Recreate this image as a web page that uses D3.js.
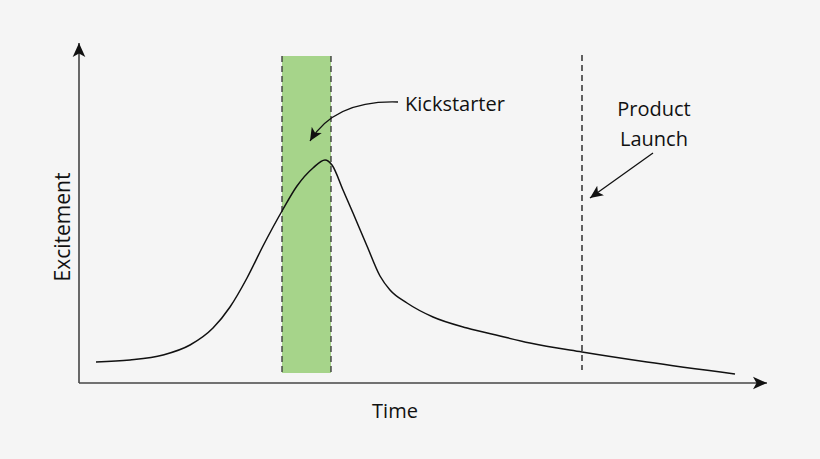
<!DOCTYPE html>
<html><head><meta charset="utf-8">
<script src="https://cdn.jsdelivr.net/npm/d3@7"></script>
<style>
html,body{margin:0;padding:0;background:#f5f5f5;}
svg{display:block;}
text{font-family:"Open Sans","Noto Sans",sans-serif;fill:#111;}
</style></head>
<body>
<svg id="c" width="820" height="459"></svg>
<script>
// Curve data: time (arbitrary units) vs excitement (arbitrary units)
const time = [17, 51, 84, 111, 134, 151, 168, 184, 203, 218, 234, 246, 253, 264, 274, 288, 301, 311, 328, 354, 388, 421, 451, 503, 568, 656];
const excitement = [21, 23, 28, 38, 55, 76, 105, 137, 172, 197, 215, 223, 218, 193, 170, 137, 107, 93, 80, 66, 55, 47, 40, 31, 21, 9];
// Kickstarter campaign window
const kickstarterWindow = [203, 252];
const bandRange = [10, 327];
// Product launch time
const launchTime = 503;
const launchRange = [13, 328];
const labels = {x: "Time", y: "Excitement", kick: "Kickstarter", launch: ["Product", "Launch"]};

const svg = d3.select("#c");
const x = d3.scaleLinear().domain([0, 688]).range([79, 767]);
const y = d3.scaleLinear().domain([0, 340]).range([383, 43]);

const defs = svg.append("defs");
defs.append("marker").attr("id","axArrow").attr("viewBox","0 0 10 10")
  .attr("refX",10).attr("refY",5).attr("markerWidth",16).attr("markerHeight",14)
  .attr("markerUnits","userSpaceOnUse").attr("orient","auto")
  .append("path").attr("d","M0,0.5 L10,5 L0,9.5 L2.5,5 Z").attr("fill","#111");
defs.append("marker").attr("id","annArrow").attr("viewBox","0 0 10 10")
  .attr("refX",10).attr("refY",5).attr("markerWidth",13).attr("markerHeight",13)
  .attr("markerUnits","userSpaceOnUse").attr("orient","auto")
  .append("path").attr("d","M0,0.5 L10,5 L0,9.5 L2.5,5 Z").attr("fill","#111");

// Kickstarter band
svg.append("rect")
  .attr("x", x(kickstarterWindow[0])).attr("width", x(kickstarterWindow[1]) - x(kickstarterWindow[0]))
  .attr("y", y(bandRange[1])).attr("height", y(bandRange[0]) - y(bandRange[1]))
  .attr("fill", "#a6d48a");
kickstarterWindow.forEach(t => {
  svg.append("line").attr("x1", x(t)).attr("x2", x(t))
    .attr("y1", y(bandRange[1])).attr("y2", y(bandRange[0]))
    .attr("stroke", "#333").attr("stroke-width", 1.3).attr("stroke-dasharray", "6,4");
});

// Product launch line
svg.append("line").attr("x1", x(launchTime)).attr("x2", x(launchTime))
  .attr("y1", y(launchRange[1])).attr("y2", y(launchRange[0]))
  .attr("stroke", "#111").attr("stroke-width", 1.3).attr("stroke-dasharray", "6,4");

// Axes
svg.append("path").attr("d", `M${x(0)},${y(0)} L${x(0)},${y(340)}`)
  .attr("stroke","#444").attr("stroke-width",1.6).attr("fill","none").attr("marker-end","url(#axArrow)");
svg.append("path").attr("d", `M${x(0)},${y(0)} L${x(688)},${y(0)}`)
  .attr("stroke","#444").attr("stroke-width",1.6).attr("fill","none").attr("marker-end","url(#axArrow)");

// Curve
const pts = time.map((t,i)=>[t, excitement[i]]);
const line = d3.line().x(d=>x(d[0])).y(d=>y(d[1])).curve(d3.curveMonotoneX);
svg.append("path").datum(pts).attr("d", line)
  .attr("fill","none").attr("stroke","#111").attr("stroke-width",1.5);

// Annotations
const kStart = [319, 281], kCtrl = [256, 283], kEnd = [231, 242];
svg.append("path")
  .attr("d", `M${x(kStart[0])},${y(kStart[1])} Q${x(kCtrl[0])},${y(kCtrl[1])} ${x(kEnd[0])},${y(kEnd[1])}`)
  .attr("fill","none").attr("stroke","#111").attr("stroke-width",1.3).attr("marker-end","url(#annArrow)");
svg.append("text").attr("x", x(326)).attr("y", y(272)).attr("font-size", 20).text(labels.kick);

const lStart = [574, 230], lEnd = [511, 185];
svg.append("path").attr("d", `M${x(lStart[0])},${y(lStart[1])} L${x(lEnd[0])},${y(lEnd[1])}`)
  .attr("fill","none").attr("stroke","#111").attr("stroke-width",1.3).attr("marker-end","url(#annArrow)");
labels.launch.forEach((s,i)=>{
  svg.append("text").attr("x", x(575)).attr("y", y(267) + i*30).attr("text-anchor","middle")
    .attr("font-size", 20).text(s);
});

svg.append("text").attr("x", 395).attr("y", 418).attr("text-anchor","middle").attr("font-size",20).text(labels.x);
svg.append("text").attr("transform","translate(70,227) rotate(-90)").attr("text-anchor","middle")
  .attr("font-size",21).text(labels.y);
</script>
</body></html>
